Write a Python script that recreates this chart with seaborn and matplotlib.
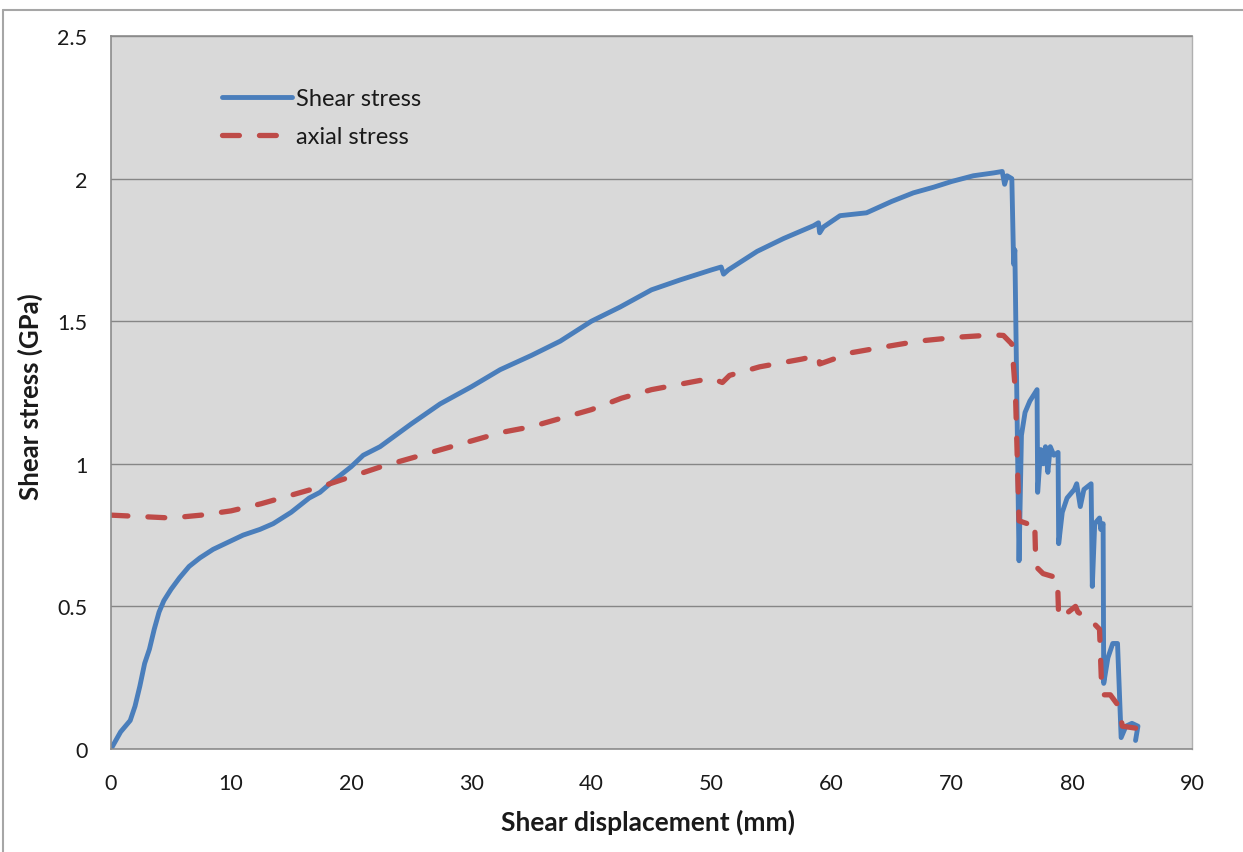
import numpy as np
import pandas as pd
import seaborn as sns
import matplotlib.pyplot as plt
from matplotlib.lines import Line2D

# ---------------- data ----------------
shear_x = [0.0, 0.4, 0.8, 1.2, 1.6, 2.0, 2.4, 2.8, 3.2, 3.6, 4.0, 4.4, 5.0, 5.7, 6.5,
           7.4, 8.5, 10.0, 11.0, 12.4, 13.5, 15.0, 16.5, 17.4, 18.5, 20.0, 21.0, 22.4,
           25.0, 27.4, 30.0, 32.4, 35.0, 37.4, 40.0, 42.4, 45.0, 47.4, 50.0, 50.8, 51.0,
           51.4, 53.8, 56.0, 58.5, 58.9, 59.0, 59.3, 60.7, 62.9, 65.0, 66.8, 68.5, 70.0,
           71.8, 73.5, 74.2, 74.4, 74.6, 75.0, 75.15, 75.25, 75.3, 75.6, 75.8, 76.1, 76.5,
           77.1, 77.15, 77.4, 77.6, 77.8, 78.0, 78.2, 78.5, 78.85, 78.9, 79.2, 79.6, 80.2,
           80.4, 80.7, 81.0, 81.6, 81.7, 81.9, 82.3, 82.4, 82.6, 82.65, 83.0, 83.4, 83.8,
           84.1, 84.5, 85.0, 85.5, 85.3]
shear_y = [0.0, 0.03, 0.06, 0.08, 0.10, 0.15, 0.22, 0.30, 0.35, 0.42, 0.48, 0.52, 0.56,
           0.60, 0.64, 0.67, 0.70, 0.73, 0.75, 0.77, 0.79, 0.83, 0.88, 0.90, 0.94, 0.99,
           1.03, 1.06, 1.14, 1.21, 1.27, 1.33, 1.38, 1.43, 1.50, 1.55, 1.61, 1.645, 1.68,
           1.69, 1.665, 1.68, 1.745, 1.79, 1.835, 1.845, 1.81, 1.83, 1.87, 1.88, 1.92,
           1.95, 1.97, 1.99, 2.01, 2.02, 2.025, 1.98, 2.01, 2.0, 1.70, 1.75, 1.60, 0.66,
           1.10, 1.18, 1.22, 1.26, 0.90, 1.05, 1.00, 1.06, 0.97, 1.06, 1.03, 1.04, 0.72,
           0.83, 0.88, 0.91, 0.93, 0.85, 0.91, 0.93, 0.57, 0.79, 0.81, 0.77, 0.79, 0.23,
           0.32, 0.37, 0.37, 0.04, 0.08, 0.09, 0.08, 0.03]

axial_x = [0.0, 2.5, 5.0, 7.5, 10.0, 12.5, 15.0, 17.5, 20.0, 22.5, 25.0, 27.5, 30.0,
           32.5, 35.0, 37.5, 40.0, 42.5, 45.0, 47.5, 50.0, 50.9, 51.5, 54.0, 57.5, 58.9,
           59.0, 61.7, 64.4, 67.2, 70.5, 73.5, 74.3, 75.0, 75.3, 75.6, 76.3, 76.9, 77.0,
           77.6, 78.8, 78.9, 79.7, 80.3, 80.5, 81.6, 82.3, 82.5, 83.2, 83.9, 84.2, 85.8]
axial_y = [0.82, 0.815, 0.81, 0.82, 0.835, 0.86, 0.89, 0.92, 0.955, 0.99, 1.02, 1.05,
           1.08, 1.11, 1.13, 1.16, 1.19, 1.23, 1.26, 1.28, 1.30, 1.285, 1.31, 1.34, 1.367,
           1.38, 1.35, 1.39, 1.41, 1.43, 1.444, 1.452, 1.45, 1.42, 1.25, 0.80, 0.79, 0.80,
           0.64, 0.615, 0.60, 0.46, 0.48, 0.50, 0.48, 0.45, 0.42, 0.19, 0.19, 0.15, 0.08,
           0.07]

x_ticks = [0, 10, 20, 30, 40, 50, 60, 70, 80, 90]
y_ticks = [0, 0.5, 1, 1.5, 2, 2.5]
y_tick_labels = ["0", "0.5", "1", "1.5", "2", "2.5"]

series_names = ["Shear stress", "axial stress"]
x_label = "Shear displacement (mm)"
y_label = "Shear stress (GPa)"

# ---------------- styling ----------------
sns.set_theme(style="white")
plt.rcParams['font.family'] = ['Lato', 'DejaVu Sans']

W, H = 1243, 853
fig = plt.figure(figsize=(W / 100, H / 100), dpi=100)
ax = fig.add_axes([111 / W, 1 - 750 / H, (1192 - 111) / W, (750 - 37) / H])
ax.set_facecolor('#D9D9D9')
ax.set_axisbelow(True)

sns.lineplot(x=shear_x, y=shear_y, sort=False, estimator=None, ax=ax,
             color='#4A7EBB', linewidth=3.5, label=series_names[0],
             solid_capstyle='round', solid_joinstyle='round')
sns.lineplot(x=axial_x, y=axial_y, sort=False, estimator=None, ax=ax,
             color='#BE4B48', linewidth=3.8, label=series_names[1],
             linestyle=(0, (3.2, 3.8)), dash_capstyle='round')

ax.set_xlim(0, 90)
ax.set_ylim(0, 2.5)
ax.set_xticks(x_ticks)
ax.set_xticklabels([str(t) for t in x_ticks])
ax.set_yticks(y_ticks)
ax.set_yticklabels(y_tick_labels)
ax.yaxis.grid(True, color='#868686', linewidth=1)
ax.xaxis.grid(False)
ax.tick_params(axis='both', length=0, labelsize=15.5, colors='#1a1a1a')
ax.tick_params(axis='x', pad=17)
ax.tick_params(axis='y', pad=17)

for s in ['left', 'bottom', 'top']:
    ax.spines[s].set_color('#8C8C8C')
    ax.spines[s].set_linewidth(1.2)
ax.spines['right'].set_color('#B0B0B0')
ax.spines['right'].set_linewidth(1)

ax.set_xlabel(x_label, fontsize=19, fontweight='bold', color='#1a1a1a')
ax.set_ylabel(y_label, fontsize=18.5, fontweight='bold', color='#1a1a1a')
ax.xaxis.set_label_coords(0.497, -0.084)
ax.yaxis.set_label_coords(-0.0629, 0.495)

leg = ax.legend(loc='upper left', bbox_to_anchor=(0.103, 0.927), frameon=False,
                fontsize=17, handlelength=2.97, handletextpad=0.13,
                labelspacing=0.71, borderpad=0, borderaxespad=0)
for t in leg.get_texts():
    t.set_color('#1a1a1a')

# outer chart border (left and top visible)
fig.add_artist(Line2D([3 / W, 3 / W], [0, 1 - 11 / H], transform=fig.transFigure,
                      color='#A6A6A6', linewidth=1.5))
fig.add_artist(Line2D([3 / W, 1], [1 - 11 / H, 1 - 11 / H], transform=fig.transFigure,
                      color='#A6A6A6', linewidth=1.5))

fig.savefig('out.png', dpi=100, facecolor='white')
